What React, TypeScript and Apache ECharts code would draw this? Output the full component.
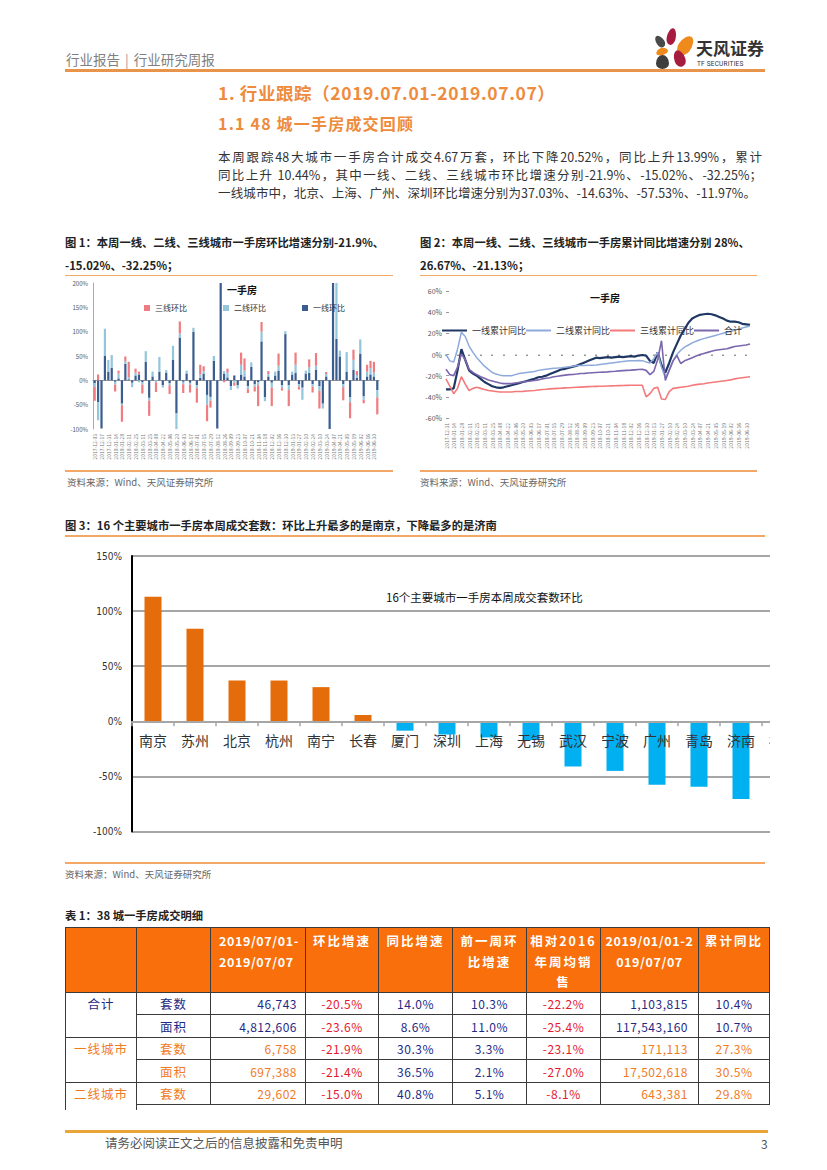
import React, { useEffect, useRef } from "react";
import * as echarts from "echarts";

const FONT = '"Noto Sans CJK SC", "Noto Sans", sans-serif';
const NARROW = '"Liberation Sans Narrow", "DejaVu Sans Condensed", "Noto Sans", sans-serif';

// ---------- Figure 1: weekly m/m change (%) by tier, stacked ----------
const fig1Tier1 = [-6, -45, -99, 50, 18, 26, -3, 4, -48, 34, 2, -5, 10, 12, -4, 38, -36, 8, 0, 18, -10, 16, -6, 42, -68, 88, -3, 14, -5, 100, -10, 5, 14, -30, -34, 40, -99, 240, 13, 6, -12, 10, -10, 12, 8, -12, 28, -8, -4, 80, -35, 8, -5, 10, 20, -10, 95, -10, 12, 15, -8, -15, 14, 15, -8, 22, -12, -48, 8, -100, 240, 85, 49, -8, 18, -35, 22, 5, 55, -33, 8, 12, 8, -20];
const fig1Tier2 = [-8, -37, 0, 56, 24, 26, -6, 10, -3, 5, 4, -9, 6, -4, -5, 22, -6, 10, -4, 30, -5, 5, -4, 29, -32, 8, -5, 6, -4, 8, -6, 7, 5, -20, -8, 10, 0, 0, 6, 10, -8, -5, -7, 20, 12, -6, 9, -5, -6, 20, -8, 5, -10, 8, 10, -6, 6, -10, 6, 17, -5, -25, 6, 12, -5, 8, -10, -10, 5, 0, 0, 150, 12, -6, 40, -10, 20, 6, 29, -7, 10, 13, 8, -15];
const fig1Tier3 = [-28, 12, 0, 0, 0, 0, -14, 6, -34, 10, 32, 0, 8, 6, -18, 0, -31, 0, -20, 0, 0, 0, -18, 0, 0, 25, -18, 0, -16, 0, -30, 20, 10, -34, -14, 0, 0, 0, -4, 8, 0, -6, 0, 25, 25, -8, 0, -10, -43, 20, 0, 6, -38, 0, 25, -5, 0, -33, 0, 25, -6, 0, 0, 16, -12, 26, -36, 0, 4, 0, 0, 10, 0, -27, 0, -33, 21, 8, 0, -7, 14, 15, 22, -35];
const fig1Legend = ["三线环比", "二线环比", "一线环比"];

// ---------- Figure 2: cumulative y/y change (%) ----------
const fig2Tier1 = [-33, -33, -32, -15, 5, -5, -15, -18, -20, -23, -26, -28, -30, -31, -31.5, -31, -30, -29, -28, -27, -26, -25, -24, -23, -21.5, -21, -20, -18.5, -17, -15.5, -14, -13.5, -12.5, -11.5, -10.5, -9, -7.5, -6, -4.5, -3, -3.5, -3, -2.5, -3, -2.5, -2, -2.5, -2, -1.5, -2, -1, -0.5, -1, -6, -8, 2, -10, -17, -8, 2, 10, 18, 24, 30, 34, 36, 37.5, 38, 38.5, 38, 37, 35.5, 34, 32, 31, 31, 30.5, 29, 28.5, 28];
const fig2Tier2 = [0, -6, -7, 5, 21, 17, 8, 2, -3, -7, -11, -14, -17, -18.5, -19.5, -20, -20, -20, -19, -18, -17.5, -17, -16.5, -16, -15, -14.5, -14, -13.5, -13, -12.8, -12.5, -12, -11.5, -11, -10.5, -10.4, -10.3, -10.2, -10.2, -10, -9.5, -9, -8.5, -8, -7.5, -7, -6.5, -6.2, -6, -5.8, -5.7, -5.8, -7, -8, -4, 2, -12, -22, -15, -6, 0, 4, 7, 9, 11, 12.5, 14, 15, 16, 17, 18, 19, 20, 21, 22, 23, 24, 25, 26, 27];
const fig2Tier3 = [-23, -30, -37, -32, -21, -28, -34, -32, -31, -32, -33, -34, -34.5, -35, -35.5, -35.5, -35.5, -35.5, -35, -35, -34.8, -34.5, -34.2, -34, -33.5, -33, -32.8, -32.5, -32.2, -32, -31.8, -31.5, -31.4, -31.2, -31, -30.8, -30.6, -30.4, -30.2, -30.1, -30, -30, -29.8, -29.6, -29.5, -29.4, -29.3, -29.2, -29.1, -29, -29, -29, -40, -37, -32, -31, -42, -42.5, -35, -32, -31.5, -31, -30.5, -30, -29, -28.5, -28, -27.7, -27, -26.5, -26, -25.5, -25, -24.5, -24, -23, -22.5, -22, -21.5, -21];
const fig2Total = [-14, -19, -20, -12, 0.6, -5, -14, -17, -19, -21, -22.5, -24, -25, -26, -27, -27.5, -27.5, -27.5, -27, -26.5, -26, -25.5, -25, -24.5, -24, -23, -22.5, -22, -21, -20.5, -20, -19.5, -19, -18.9, -18.5, -18, -17.8, -17.5, -17.2, -17, -16.8, -16.7, -16.4, -16, -15.8, -15.5, -15.2, -15, -14.8, -14.5, -14.2, -14, -15, -19, -16, -5, 13, -24.5, -15, -6, -1, -8.5, -6, -4.5, -3, -1.5, 0, 1, 2, 3, 4, 4.5, 5, 5.5, 6.5, 7.5, 8, 8.5, 9, 10];
const fig2Legend = ["一线累计同比", "二线累计同比", "三线累计同比", "合计"];

// ---------- Figure 3: 16 cities, weekly m/m (%) ----------
const fig3Cities = ["南京", "苏州", "北京", "杭州", "南宁", "长春", "厦门", "深圳", "上海", "无锡", "武汉", "宁波", "广州", "青岛", "济南", "福州"];
const fig3Values = [113, 84, 37.03, 37, 31, 5.7, -8.5, -11.97, -14.63, -17, -41, -45, -57.53, -59.5, -70.4, -72];

// ---------- Table 1 ----------
const tableHead = ["", "", "2019/07/01-\n2019/07/07", "环比增速", "同比增速", "前一周环\n比增速", "相对2016\n年周均销\n售", "2019/01/01-2\n019/07/07", "累计同比"];
const tableGroups = ["合计", "一线城市", "二线城市"];
const tableRows = [
  ["套数", "46,743", "-20.5%", "14.0%", "10.3%", "-22.2%", "1,103,815", "10.4%"],
  ["面积", "4,812,606", "-23.6%", "8.6%", "11.0%", "-25.4%", "117,543,160", "10.7%"],
  ["套数", "6,758", "-21.9%", "30.3%", "3.3%", "-23.1%", "171,113", "27.3%"],
  ["面积", "697,388", "-21.4%", "36.5%", "2.1%", "-27.0%", "17,502,618", "30.5%"],
  ["套数", "29,602", "-15.0%", "40.8%", "5.1%", "-8.1%", "643,381", "29.8%"],
];
const tableRowGroup = [0, 0, 1, 1, 2];

function weeklyDates(endIso: string, count: number): string[] {
  const end = Date.parse(endIso + "T00:00:00Z");
  const out: string[] = [];
  for (let i = count - 1; i >= 0; i--) {
    out.push(new Date(end - i * 7 * 86400000).toISOString().slice(0, 10));
  }
  return out;
}
const fig1Dates = weeklyDates("2019-07-07", fig1Tier1.length);
const fig2Dates = weeklyDates("2019-07-07", fig2Tier1.length);

function EChart({ option, style }: { option: any; style: React.CSSProperties }) {
  const ref = useRef<HTMLDivElement>(null);
  useEffect(() => {
    const chart = echarts.init(ref.current!, undefined, { renderer: "svg" });
    chart.setOption(option);
    return () => chart.dispose();
  }, []);
  return <div ref={ref} style={style} />;
}

function T({ x, cy, size, color = "#333", weight = 400, lh, children, style }: any) {
  const h = lh ?? Math.round(size * 1.4);
  return (
    <div
      style={{
        position: "absolute",
        left: x,
        top: cy - h / 2,
        fontSize: size,
        lineHeight: `${h}px`,
        color,
        fontWeight: weight,
        whiteSpace: "nowrap",
        ...style,
      }}
    >
      {children}
    </div>
  );
}

function Rule({ x, y, w, h = 1.5, color = "#F4A868" }: any) {
  return <div style={{ position: "absolute", left: x, top: y, width: w, height: h, background: color }} />;
}

const c1 = { navy: "#3A5C8E", blue: "#93C6DA", red: "#EE7C80" };
const c2 = { navy: "#1F3763", blue: "#8EAADB", red: "#F4797B", purple: "#7B67AE" };

const option1 = {
  animation: false,
  textStyle: { fontFamily: FONT },
  title: { text: "一手房", left: 162, top: 6, padding: 0, textStyle: { fontSize: 10, fontWeight: "bold", color: "#111" } },
  legend: {
    data: fig1Legend,
    left: 79,
    top: 26,
    padding: 0,
    icon: "rect",
    itemWidth: 6,
    itemHeight: 6,
    itemGap: 36,
    textStyle: { fontSize: 8, color: "#333" },
  },
  grid: { left: 28, right: 16, top: 5, bottom: 39 },
  xAxis: [
    {
      type: "category",
      data: fig1Dates,
      position: "bottom",
      axisLine: { show: false, onZero: false },
      axisTick: { show: false },
      axisLabel: { rotate: 90, fontSize: 5, color: "#777", interval: 1, margin: 5 },
    },
    {
      type: "category",
      data: fig1Dates,
      position: "bottom",
      axisLine: { show: true, onZero: true, lineStyle: { color: "#9a9a9a", width: 1 } },
      axisTick: { show: false },
      axisLabel: { show: false },
    },
  ],
  yAxis: {
    type: "value",
    min: -100,
    max: 200,
    interval: 50,
    axisLine: { show: true, lineStyle: { color: "#aaa" } },
    axisTick: { show: false },
    splitLine: { show: false },
    axisLabel: { formatter: "{value}%", fontSize: 6, color: "#555", margin: 5 },
  },
  series: [
    { name: "一线环比", type: "bar", stack: "t", data: fig1Tier1, clip: true, barCategoryGap: "35%", itemStyle: { color: c1.navy } },
    { name: "二线环比", type: "bar", stack: "t", data: fig1Tier2, clip: true, itemStyle: { color: c1.blue } },
    { name: "三线环比", type: "bar", stack: "t", data: fig1Tier3, clip: true, itemStyle: { color: c1.red } },
  ],
};

const option2 = {
  animation: false,
  textStyle: { fontFamily: FONT },
  title: { text: "一手房", left: 172, top: 14, padding: 0, textStyle: { fontSize: 10, fontWeight: "bold", color: "#111" } },
  legend: {
    data: fig2Legend,
    left: 24,
    top: 48,
    padding: 0,
    icon: "rect",
    itemWidth: 25,
    itemHeight: 2,
    itemGap: 0,
    textStyle: { fontSize: 9, color: "#333" },
  },
  grid: { left: 28, right: 15, top: 13, bottom: 50 },
  xAxis: [
    {
      type: "category",
      data: fig2Dates,
      boundaryGap: false,
      position: "bottom",
      axisLine: { show: false, onZero: false },
      axisTick: { show: false },
      axisLabel: { rotate: 90, fontSize: 5, color: "#777", interval: 1, margin: 5 },
    },
    {
      type: "category",
      data: fig2Dates,
      boundaryGap: false,
      position: "bottom",
      axisLine: { show: false, onZero: true },
      axisTick: { show: true, interval: 2, length: 1.5, lineStyle: { color: "#777", width: 1.5 } },
      axisLabel: { show: false },
    },
  ],
  yAxis: {
    type: "value",
    min: -60,
    max: 60,
    interval: 20,
    axisLine: { show: false },
    axisTick: { show: true, inside: true, length: 3, lineStyle: { color: "#999" } },
    splitLine: { show: false },
    axisLabel: { formatter: "{value}%", fontSize: 7, color: "#555", margin: 4 },
  },
  series: [
    { name: "一线累计同比", type: "line", data: fig2Tier1, symbol: "none", lineStyle: { width: 2.2, color: c2.navy }, itemStyle: { color: c2.navy } },
    { name: "二线累计同比", type: "line", data: fig2Tier2, symbol: "none", lineStyle: { width: 1.5, color: c2.blue }, itemStyle: { color: c2.blue } },
    { name: "三线累计同比", type: "line", data: fig2Tier3, symbol: "none", lineStyle: { width: 1.6, color: c2.red }, itemStyle: { color: c2.red } },
    { name: "合计", type: "line", data: fig2Total, symbol: "none", lineStyle: { width: 1.6, color: c2.purple }, itemStyle: { color: c2.purple } },
  ],
};

const option3 = {
  animation: false,
  textStyle: { fontFamily: FONT },
  title: {
    text: "16个主要城市一手房本周成交套数环比",
    left: 321,
    top: 51,
    padding: 0,
    textStyle: { fontSize: 11.5, fontWeight: "normal", color: "#111" },
  },
  grid: { left: 67, right: 6, top: 16, bottom: 28.5 },
  xAxis: {
    type: "category",
    data: fig3Cities,
    z: 5,
    position: "bottom",
    offset: -110.2,
    axisLine: { onZero: false, lineStyle: { color: "#A6A6A6", width: 2 } },
    axisTick: { show: true, length: 5, lineStyle: { color: "#A6A6A6", width: 1.5 } },
    axisLabel: { interval: 0, fontSize: 14, color: "#333", margin: 12 },
  },
  yAxis: {
    type: "value",
    min: -100,
    max: 150,
    interval: 50,
    axisLine: { show: true, lineStyle: { color: "#000", width: 2 } },
    axisTick: { show: false },
    splitLine: { lineStyle: { color: "#A6A6A6", width: 2 } },
    axisLabel: { formatter: "{value}%", fontSize: 10, color: "#333", margin: 10, fontFamily: NARROW },
  },
  series: [
    {
      type: "bar",
      data: fig3Values,
      barWidth: 17,
      itemStyle: { color: (p: any) => (p.value >= 0 ? "#E46C0A" : "#00B0F0") },
    },
  ],
};

const petals = [
  { cx: 671, cy: 36, w: 9, h: 17, rot: 12, color: "#A51C40" },
  { cx: 685, cy: 45, w: 13, h: 21, rot: 35, color: "#EF8A1C" },
  { cx: 660, cy: 41, w: 8, h: 13, rot: -35, color: "#4A4A4A" },
  { cx: 662, cy: 51, w: 12, h: 7, rot: -15, color: "#EF8A1C" },
  { cx: 662, cy: 62, w: 13, h: 14, rot: 0, color: "#3E3E3E" },
  { cx: 679, cy: 58, w: 11, h: 17, rot: -20, color: "#A51C40" },
];

const colW = [71, 74, 95, 73, 74, 74, 74, 98, 71];
const colX = colW.reduce((acc: number[], w, i) => {
  acc.push(acc[i] + w);
  return acc;
}, [65]);
const rowTop = [992, 1014, 1037, 1059, 1082, 1104];

const NAVY = "#1F2A84";
const ORANGE_T = "#F07A1E";
const RED_T = "#E5192E";
const BORDER = "1px solid #3a3a3a";

function Table() {
  const cells: any[] = [];
  tableHead.forEach((h, i) => {
    const isDate = i === 2 || i === 7;
    cells.push(
      <div
        key={"h" + i}
        style={{
          position: "absolute",
          left: colX[i],
          top: 927,
          width: colW[i] + 1,
          height: 66,
          boxSizing: "border-box",
          border: BORDER,
          background: "#F86F0B",
          color: "#fff",
          fontWeight: 700,
          fontSize: 12.5,
          lineHeight: "20.5px",
          paddingTop: 3,
          paddingLeft: i === 2 ? 8 : 0,
          textAlign: i === 2 ? "left" : "center",
          letterSpacing: isDate ? 0.6 : 2,
          whiteSpace: "pre",
        }}
      >
        {h}
      </div>
    );
  });
  tableGroups.forEach((g, gi) => {
    const rows = tableRowGroup.map((v, r) => (v === gi ? r : -1)).filter((r) => r >= 0);
    const top = rowTop[rows[0]];
    const last = gi === tableGroups.length - 1;
    const height = last ? 28 : rowTop[rows[rows.length - 1] + 1] - top + 1;
    cells.push(
      <div
        key={"g" + gi}
        style={{
          position: "absolute",
          left: colX[0],
          top,
          width: colW[0] + 1,
          height,
          boxSizing: "border-box",
          borderLeft: BORDER,
          borderRight: BORDER,
          borderTop: BORDER,
          borderBottom: last ? "none" : BORDER,
          color: gi === 0 ? NAVY : ORANGE_T,
          fontSize: 12.5,
          textAlign: "center",
          lineHeight: `${rowTop[rows[0] + 1] - top}px`,
          letterSpacing: 1,
        }}
      >
        {g}
      </div>
    );
  });
  tableRows.forEach((row, r) => {
    const tone = tableRowGroup[r] === 0 ? NAVY : ORANGE_T;
    const top = rowTop[r];
    const h = rowTop[r + 1] - top;
    row.forEach((v, j) => {
      const c = j + 1;
      let color = NAVY;
      if (c === 1 || c === 2 || c === 7 || c === 8) color = tone;
      if ((c === 3 || c === 6) && v.startsWith("-")) color = RED_T;
      const right = c === 2 || c === 7;
      cells.push(
        <div
          key={"c" + r + "_" + c}
          style={{
            position: "absolute",
            left: colX[c],
            top,
            width: colW[c] + 1,
            height: h + 1,
            boxSizing: "border-box",
            border: BORDER,
            color,
            fontSize: c === 1 ? 12.5 : 12,
            lineHeight: `${h}px`,
            textAlign: right ? "right" : "center",
            paddingRight: c === 2 ? 8 : c === 7 ? 10 : 0,
            letterSpacing: c === 1 ? 1 : 0.5,
            whiteSpace: "nowrap",
          }}
        >
          {v}
        </div>
      );
    });
  });
  return <>{cells}</>;
}

export default function App() {
  return (
    <div
      style={{
        position: "absolute",
        left: 0,
        top: 0,
        width: 827,
        height: 1170,
        background: "#fff",
        fontFamily: FONT,
        overflow: "hidden",
      }}
    >
      {/* header */}
      <T x={66} cy={59} size={13.5} color="#808080">
        行业报告<span style={{ margin: "0 5px", color: "#9a9a9a" }}>|</span>行业研究周报
      </T>
      <Rule x={65} y={69} w={700} h={3} color="#E8944A" />
      {petals.map((p, i) => (
        <div
          key={i}
          style={{
            position: "absolute",
            left: p.cx - p.w / 2,
            top: p.cy - p.h / 2,
            width: p.w,
            height: p.h,
            background: p.color,
            borderRadius: "50% 50% 50% 50% / 60% 60% 40% 40%",
            transform: `rotate(${p.rot}deg)`,
          }}
        />
      ))}
      <T x={696} cy={48} size={17} weight={700} color="#333">
        天风证券
      </T>
      <T x={697} cy={64} size={6.5} color="#333" style={{ fontFamily: "Roboto, sans-serif", letterSpacing: 0.2 }}>
        TF SECURITIES
      </T>

      {/* headings */}
      <T x={218} cy={92} size={17.5} weight={700} color="#EE8B3C" style={{ letterSpacing: 0.6 }}>
        1. 行业跟踪（2019.07.01-2019.07.07）
      </T>
      <T x={218} cy={123} size={16} weight={700} color="#EE8B3C" style={{ letterSpacing: 1.2 }}>
        1.1 48 城一手房成交回顾
      </T>
      {[
        "本周跟踪48大城市一手房合计成交4.67万套，环比下降20.52%，同比上升13.99%，累计",
        "同比上升  10.44%，其中一线、二线、三线城市环比增速分别-21.9%、-15.02%、-32.25%；",
        "一线城市中，北京、上海、广州、深圳环比增速分别为37.03%、-14.63%、-57.53%、-11.97%。",
      ].map((line, i) => (
        <div
          key={i}
          style={{
            position: "absolute",
            left: 218,
            top: 148 + i * 18,
            width: i === 2 ? 538 : 544,
            fontSize: 12.5,
            lineHeight: "18px",
            color: "#333",
            textAlign: "justify",
            textAlignLast: "justify",
            whiteSpace: "nowrap",
          }}
        >
          {line}
        </div>
      ))}

      {/* figure 1 */}
      <T x={65} cy={242} size={11.3} weight={700} color="#222">
        图 1：本周一线、二线、三线城市一手房环比增速分别-21.9%、
      </T>
      <T x={65} cy={265} size={11.3} weight={700} color="#222">
        -15.02%、-32.25%；
      </T>
      <Rule x={65} y={274.5} w={328} />
      <EChart option={option1} style={{ position: "absolute", left: 65, top: 278, width: 330, height: 190 }} />
      <Rule x={65} y={470} w={328} />
      <T x={67} cy={482} size={9.5} color="#666">
        资料来源：Wind、天风证券研究所
      </T>

      {/* figure 2 */}
      <T x={420} cy={242} size={11.3} weight={700} color="#222">
        图 2：本周一线、二线、三线城市一手房累计同比增速分别 28%、
      </T>
      <T x={420} cy={265} size={11.3} weight={700} color="#222">
        26.67%、-21.13%；
      </T>
      <Rule x={420} y={274.5} w={337} />
      <EChart option={option2} style={{ position: "absolute", left: 418, top: 278, width: 347, height: 190 }} />
      <Rule x={420} y={470} w={337} />
      <T x={420} cy={482} size={9.5} color="#666">
        资料来源：Wind、天风证券研究所
      </T>

      {/* figure 3 */}
      <T x={65} cy={525} size={11.3} weight={700} color="#222">
        图 3：16 个主要城市一手房本周成交套数：环比上升最多的是南京，下降最多的是济南
      </T>
      <Rule x={65} y={535} w={700} />
      <div style={{ position: "absolute", left: 65, top: 540, width: 705, height: 320, overflow: "hidden" }}>
        <EChart option={option3} style={{ position: "absolute", left: 0, top: 0, width: 745, height: 320 }} />
      </div>
      <Rule x={65} y={862} w={700} />
      <T x={65} cy={874} size={9.5} color="#666">
        资料来源：Wind、天风证券研究所
      </T>

      {/* table */}
      <T x={65} cy={915} size={11.3} weight={700} color="#222">
        表 1：38 城一手房成交明细
      </T>
      <Table />

      {/* footer */}
      <Rule x={65} y={1130} w={703} h={3} color="#E9A43A" />
      <T x={105} cy={1143} size={12.5} color="#555">
        请务必阅读正文之后的信息披露和免责申明
      </T>
      <T x={761} cy={1143} size={12} color="#555">
        3
      </T>
    </div>
  );
}
